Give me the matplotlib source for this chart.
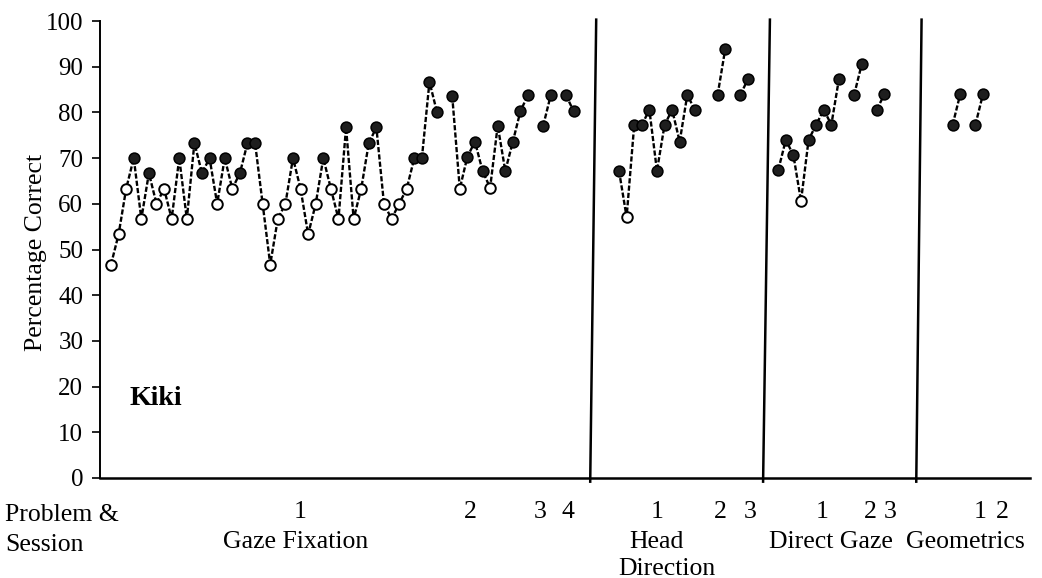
import numpy as np
import matplotlib
matplotlib.use("Agg")
import matplotlib.pyplot as plt
from matplotlib.transforms import blended_transform_factory

plt.rcParams['font.family'] = ['Liberation Serif', 'DejaVu Serif']

# Percentage correct per block, grouped by problem, then by session
gaze_fixation = [
    [46.7, 53.3, 63.3, 70.0, 56.7, 66.7, 60.0, 63.3, 56.7, 70.0, 56.7, 73.3,
     66.7, 70.0, 60.0, 70.0, 63.3, 66.7, 73.3, 73.3, 60.0, 46.7, 56.7, 60.0,
     70.0, 63.3, 53.3, 60.0, 70.0, 63.3, 56.7, 76.7, 56.7, 63.3, 73.3, 76.7,
     60.0, 56.7, 60.0, 63.3, 70.0, 70.0, 86.7, 80.0],
    [83.6, 63.3, 70.3, 73.6, 67.2, 63.5, 77.1, 67.2, 73.6, 80.3, 83.8],
    [77.1, 83.8],
    [83.8, 80.3],
]
head_direction = [
    [67.2, 57.1, 77.2, 77.2, 80.6, 67.2, 77.2, 80.6, 73.6, 83.8, 80.6],
    [83.8, 93.8],
    [83.8, 87.3],
]
direct_gaze = [
    [67.4, 74.0, 70.6, 60.6, 74.0, 77.3, 80.6, 77.3, 87.3],
    [83.8, 90.5],
    [80.6, 84.0],
]
geometrics = [
    [77.3, 84.0],
    [77.3, 84.0],
]

problems = [gaze_fixation, head_direction, direct_gaze, geometrics]
problem_names = [["Gaze Fixation"], ["Head", "Direction"], ["Direct Gaze"], ["Geometrics"]]
session_labels = [["1", "2", "3", "4"], ["1", "2", "3"], ["1", "2", "3"], ["1", "2"]]
criterion = 65  # blocks at or above this level are drawn as filled markers

# Layout on a block-slot axis
session_starts = [[0, 45, 57, 60], [67, 80, 83], [88, 98, 101], [111, 114]]
session_label_x = [[24.9, 47.4, 56.6, 60.3], [72.0, 80.3, 84.3],
                   [93.8, 100.1, 102.8], [114.6, 117.5]]
problem_label_x = [[24.3], [72.0, 73.3], [94.9], [112.7]]
dividers = [(63.99, 63.2), (86.9, 86.0), (106.9, 106.2)]  # (x at top, x at bottom)

W, H = 1042, 578
fig = plt.figure(figsize=(W / 100, H / 100), dpi=100)
ax = fig.add_axes([100 / W, 100 / H, 930 / W, 457 / H])

for sessions, starts in zip(problems, session_starts):
    for vals, start in zip(sessions, starts):
        vals = np.asarray(vals)
        xs = start + np.arange(len(vals))
        ax.plot(xs, vals, color='black', lw=1.7, ls=(0, (2.2, 0.9)), zorder=2)
        filled = vals >= criterion
        ax.plot(xs[~filled], vals[~filled], ls='none', marker='o', ms=7.6,
                mfc='white', mec='black', mew=1.4, zorder=3)
        ax.plot(xs[filled], vals[filled], ls='none', marker='o', ms=7.8,
                mfc='#1e1e1e', mec='black', mew=1.1, zorder=3)

for xt, xb in dividers:
    ax.plot([xt, xb], [100.3, -0.8], color='black', lw=1.8, clip_on=False, zorder=4)

ax.set_xlim(-1.45, 121.2)
ax.set_ylim(0, 100)
ax.set_yticks(np.arange(0, 101, 10))
ax.set_xticks([])
for side in ('top', 'right'):
    ax.spines[side].set_visible(False)
ax.spines['left'].set_linewidth(1.4)
ax.spines['bottom'].set_linewidth(1.8)
ax.tick_params(axis='y', direction='out', length=6, width=1.2, pad=6, labelsize=18)

fig.text(36 / W, 1 - 252 / H, "Percentage Correct", rotation=90,
         ha='center', va='center', fontsize=18.5)

ax.text(2.5, 16, "Kiki", fontsize=20, fontweight='bold', ha='left', va='baseline')

# Labels under the axis: sessions, then problem names
bt = blended_transform_factory(ax.transData, fig.transFigure)
fig.text(5 / W, 1 - 521 / H, "Problem &", fontsize=18.5, ha='left', va='baseline')
fig.text(5 / W, 1 - 551 / H, "Session", fontsize=18.5, ha='left', va='baseline')
for xs_lab, labs in zip(session_label_x, session_labels):
    for x, lab in zip(xs_lab, labs):
        ax.text(x, 1 - 518 / H, lab, transform=bt, fontsize=18.5,
                ha='center', va='baseline')
for xs_lab, names in zip(problem_label_x, problem_names):
    for i, (x, name) in enumerate(zip(xs_lab, names)):
        ax.text(x, 1 - (548 + 27 * i) / H, name, transform=bt, fontsize=18.5,
                ha='center', va='baseline')

fig.savefig("out.png", dpi=100)
